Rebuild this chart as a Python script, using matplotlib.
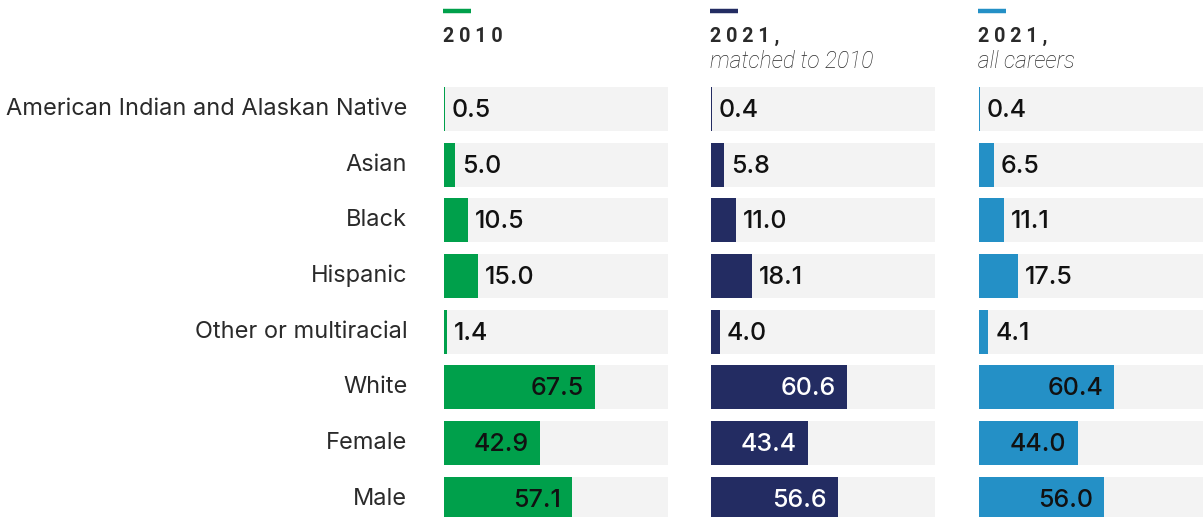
import matplotlib
matplotlib.use("Agg")
import matplotlib.pyplot as plt
import matplotlib.transforms as mtransforms

categories = ["American Indian and Alaskan Native", "Asian", "Black", "Hispanic",
              "Other or multiracial", "White", "Female", "Male"]
v2010 = [0.5, 5.0, 10.5, 15.0, 1.4, 67.5, 42.9, 57.1]
v2021_matched = [0.4, 5.8, 11.0, 18.1, 4.0, 60.6, 43.4, 56.6]
v2021_all = [0.4, 6.5, 11.1, 17.5, 4.1, 60.4, 44.0, 56.0]
titles = ["2010", "2021,", "2021,"]
subtitles = ["", "matched to 2010", "all careers"]

colors = ["#00A04B", "#232C62", "#2490C6"]
inside_text = ["#111111", "#FFFFFF", "#111111"]
grey = "#F3F3F3"
TXT = "#2a2a2a"

W, H = 1204, 517
fig = plt.figure(figsize=(W / 100, H / 100), dpi=100)

panels_px = [(444, 224), (711, 224), (979, 224)]
series = [v2010, v2021_matched, v2021_all]

n = len(categories)
pitch = 55.7
row0 = 109
ylim_top = -row0 / pitch
ylim_bot = (n - 1) + (H - (row0 + (n - 1) * pitch)) / pitch

for k, ((x0, w), vals) in enumerate(zip(panels_px, series)):
    ax = fig.add_axes([x0 / W, 0, w / W, 1])
    ys = list(range(n))
    ax.barh(ys, [100] * n, height=44 / pitch, color=grey, left=0)
    ax.barh(ys, vals, height=44 / pitch, color=colors[k], left=0)
    ax.set_xlim(0, 100)
    ax.set_ylim(ylim_bot, ylim_top)
    for s in ax.spines.values():
        s.set_visible(False)
    ax.set_xticks([])
    if k == 0:
        ax.set_yticks(ys)
        ax.set_yticklabels(categories, fontsize=16.95, family="Inter", color=TXT)
        ax.tick_params(axis="y", length=0, pad=26.5)
        off = mtransforms.ScaledTranslation(0, 2.5 / 100, fig.dpi_scale_trans)
        for t in ax.get_yticklabels():
            t.set_transform(t.get_transform() + off)
    else:
        ax.set_yticks([])
    for i, v in enumerate(vals):
        lab = f"{v:.1f}"
        if v >= 30:
            ax.annotate(lab, (v, i), xytext=(-8, -1), textcoords="offset points",
                        ha="right", va="center", fontsize=18, family="Inter",
                        fontweight="medium", color=inside_text[k])
        else:
            ax.annotate(lab, (v, i), xytext=(5, -1), textcoords="offset points",
                        ha="left", va="center", fontsize=18, family="Inter",
                        fontweight="medium", color="#111111")
    # header
    fig.add_artist(plt.Line2D([(x0 - 1) / W, (x0 + 27) / W], [1 - 11 / H, 1 - 11 / H],
                              color=colors[k], lw=3.2, solid_capstyle="butt"))
    fig.text((x0 - 1) / W, 1 - 36 / H, " ".join(titles[k]), fontsize=14.2,
             family="Roboto", fontweight="bold", color=TXT, va="center", ha="left")
    if subtitles[k]:
        fig.text((x0 - 1) / W, 1 - 62 / H, subtitles[k], fontsize=16.4,
                 family="Roboto", fontstyle="italic", fontweight="light",
                 color=TXT, va="center", ha="left")

fig.savefig("out.png", dpi=100)
